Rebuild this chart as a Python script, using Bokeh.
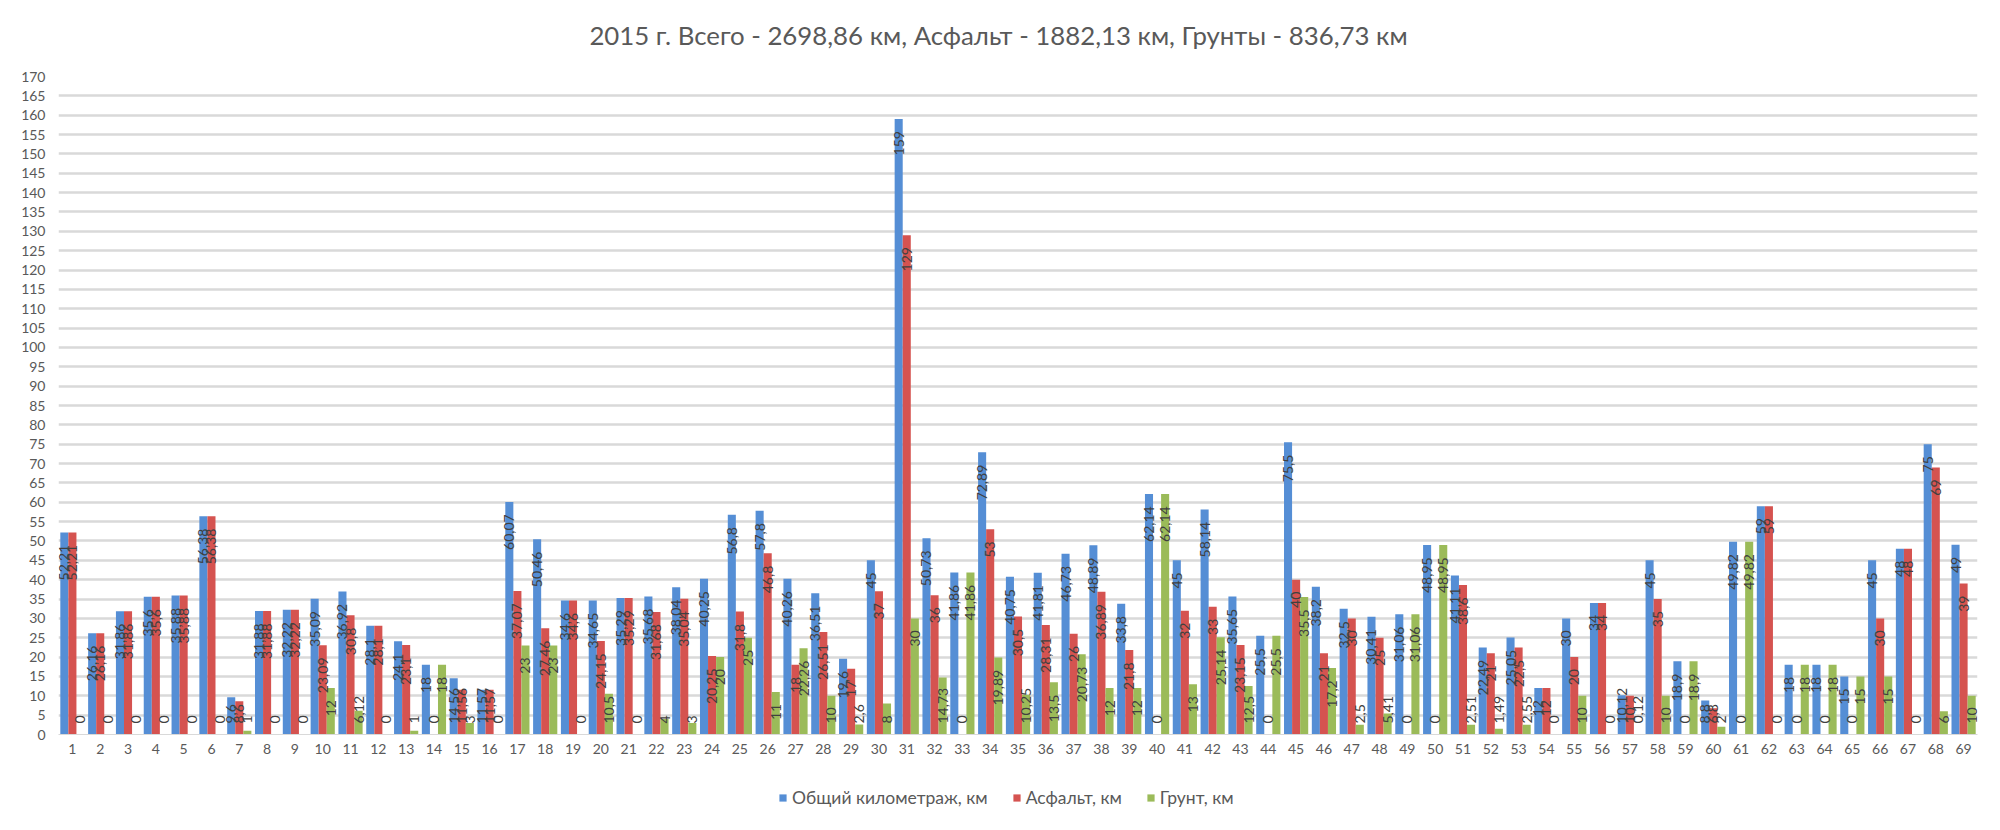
import math
from bokeh.plotting import figure
from bokeh.layouts import column
from bokeh.models import (FactorRange, Range1d, ColumnDataSource, Legend, LegendItem,
                          FixedTicker, Label)
from bokeh.transform import dodge
from bokeh.core.properties import value
from bokeh.embed import file_html
from bokeh.resources import INLINE

title_text = "2015 г. Всего - 2698,86 км, Асфальт - 1882,13 км, Грунты - 836,73 км"
series_names = ["Общий километраж, км", "Асфальт, км", "Грунт, км"]
categories = [str(i) for i in range(1, 70)]
total = [52.21, 26.16, 31.86, 35.6, 35.88, 56.38, 9.6, 31.88, 32.22, 35.09,
         36.92, 28.1, 24.1, 18, 14.56, 11.57, 60.07, 50.46, 34.6, 34.65,
         35.29, 35.68, 38.04, 40.25, 56.8, 57.8, 40.26, 36.51, 19.6, 45,
         159, 50.73, 41.86, 72.89, 40.75, 41.81, 46.73, 48.89, 33.8, 62.14,
         45, 58.14, 35.65, 25.5, 75.5, 38.2, 32.5, 30.41, 31.06, 48.95,
         41.11, 22.49, 25.05, 12, 30, 34, 10.12, 45, 18.9, 8.8,
         49.82, 59, 18, 18, 15, 45, 48, 75, 49]
asphalt = [52.21, 26.16, 31.86, 35.6, 35.88, 56.38, 8.6, 31.88, 32.22, 23.09,
           30.8, 28.1, 23.1, 0, 11.56, 11.57, 37.07, 27.46, 34.6, 24.15,
           35.29, 31.68, 35.04, 20.25, 31.8, 46.8, 18, 26.51, 17, 37,
           129, 36, 0, 53, 30.5, 28.31, 26, 36.89, 21.8, 0,
           32, 33, 23.15, 0, 40, 21, 30, 25, 0, 0,
           38.6, 21, 22.5, 12, 20, 34, 10, 35, 0, 6.8,
           0, 59, 0, 0, 0, 30, 48, 69, 39]
ground = [0, 0, 0, 0, 0, 0, 1, 0, 0, 12,
          6.12, 0, 1, 18, 3, 0, 23, 23, 0, 10.5,
          0, 4, 3, 20, 25, 11, 22.26, 10, 2.6, 8,
          30, 14.73, 41.86, 19.89, 10.25, 13.5, 20.73, 12, 12, 62.14,
          13, 25.14, 12.5, 25.5, 35.5, 17.2, 2.5, 5.41, 31.06, 48.95,
          2.51, 1.49, 2.55, 0, 10, 0, 0.12, 10, 18.9, 2,
          49.82, 0, 18, 18, 15, 15, 0, 6, 10]
y_ticks = list(range(0, 171, 5))

colors = ["#558ED5", "#D55350", "#9BBB59"]
FONT = "Lato"
Y_MAX = 170
FRAME_H = 658
PPU = FRAME_H / Y_MAX
BAR_W = 0.29
offsets = [-BAR_W, 0, BAR_W]


def fmt(v):
    s = f"{v:.2f}".rstrip("0").rstrip(".")
    return s.replace(".", ",")


def text_len(s):
    return sum(3.6 if c == "," else 8.1 for c in s)


def label_base(v, s):
    return max(v - (12 + text_len(s)) / PPU, 11 / PPU)


W = 2000
H_TITLE = 60
H_MAIN = 710
H_LEG = 60
LEFT = 58


def strip(height):
    f = figure(width=W, height=height, x_range=Range1d(0, 1), y_range=Range1d(0, 1),
               output_backend="svg", toolbar_location=None, min_border=0,
               x_axis_location=None, y_axis_location=None, outline_line_color=None)
    f.grid.visible = False
    return f


# title strip
pt = strip(H_TITLE)
pt.add_layout(Label(x=998 - LEFT, y=26, x_units="screen", y_units="screen",
                    text=title_text, text_align="center", text_baseline="middle",
                    text_font=FONT, text_font_size="25.8px", text_color="#595959"))

# main chart
p = figure(width=W, height=H_MAIN, x_range=FactorRange(*categories),
           y_range=Range1d(0, Y_MAX), output_backend="svg", toolbar_location=None,
           min_border_left=LEFT, min_border_right=23, min_border_top=16,
           min_border_bottom=H_MAIN - 16 - FRAME_H, outline_line_color=None)

p.xgrid.grid_line_color = None
p.ygrid.grid_line_color = "#d9d9d9"
p.ygrid.grid_line_width = 2.5
p.yaxis.ticker = FixedTicker(ticks=y_ticks)
p.yaxis.axis_line_color = None
p.yaxis.major_tick_line_color = None
p.yaxis.major_tick_out = 0
p.yaxis.minor_tick_line_color = None
p.yaxis.major_label_standoff = 13
p.yaxis.major_label_text_font = FONT
p.yaxis.major_label_text_font_size = "14px"
p.yaxis.major_label_text_color = "#595959"

p.xaxis.axis_line_color = "#d9d9d9"
p.xaxis.major_tick_line_color = None
p.xaxis.major_tick_out = 0
p.xaxis.major_label_standoff = 9
p.xaxis.major_label_text_font = FONT
p.xaxis.major_label_text_font_size = "14px"
p.xaxis.major_label_text_color = "#595959"

all_series = [total, asphalt, ground]
for vals, off, col in zip(all_series, offsets, colors):
    src = ColumnDataSource(dict(cat=categories, top=vals))
    p.vbar(x=dodge("cat", off, range=p.x_range), top="top", width=BAR_W,
           bottom=0, source=src, fill_color=col, line_color=None)

for vals, off in zip(all_series, offsets):
    labs = [fmt(v) for v in vals]
    src = ColumnDataSource(dict(cat=categories, lab=labs,
                                ly=[label_base(v, s) for v, s in zip(vals, labs)]))
    p.text(x=dodge("cat", off, range=p.x_range), y="ly", text="lab", source=src,
           angle=math.pi / 2, text_align="left", text_baseline="middle",
           text_font=value(FONT), text_font_size="14px", text_color="#404040")

# legend strip below the chart (swatch renderers sit outside the visible range)
pl = strip(H_LEG)
leg_renderers = [pl.vbar(x=[-5], top=[-5], width=0.1, fill_color=c, line_color=None)
                 for c in colors]
legend = Legend(items=[LegendItem(label=n, renderers=[r])
                       for n, r in zip(series_names, leg_renderers)],
                location=(778 - LEFT, 22), orientation="horizontal", glyph_width=9,
                glyph_height=9, label_standoff=5, spacing=24, padding=0, margin=0,
                border_line_color=None, background_fill_alpha=0,
                label_text_font=FONT, label_text_font_size="17.5px",
                label_text_color="#595959", label_height=16)
pl.add_layout(legend)

layout = column(pt, p, pl, spacing=0)
open("out.html", "w").write(file_html(layout, INLINE))
